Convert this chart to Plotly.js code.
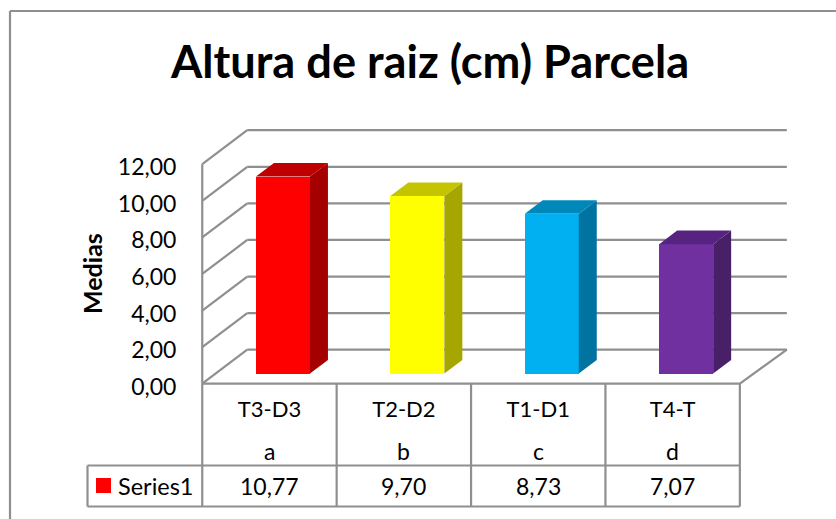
<!DOCTYPE html>
<html>
<head>
<meta charset="utf-8">
<script src="https://cdn.plot.ly/plotly-3.0.1.min.js"></script>
<style>html,body{margin:0;padding:0;background:#fff}#c{width:836px;height:519px}</style>
</head>
<body>
<div id="c"></div>
<script>
const categories = ['T3-D3', 'T2-D2', 'T1-D1', 'T4-T'];
const letters = ['a', 'b', 'c', 'd'];
const values = [10.77, 9.70, 8.73, 7.07];
const seriesName = 'Series1';
const tickValues = [0, 2, 4, 6, 8, 10, 12];
const frontColors = ['#ff0000', '#ffff00', '#00b0f0', '#7030a0'];
const sideColors = ['#a40000', '#a6a600', '#0073a0', '#482068'];
const topColors = ['#c00000', '#c4c400', '#0088bb', '#562480'];
const titleText = 'Altura de raiz (cm) Parcela';
const yTitle = 'Medias';

// Pixel geometry of the oblique projection
const FONT = 'Lato, Carlito, sans-serif';
const LINE = '#8f8f8f';
const PL = 200, PR = 790, PT = 127, PB = 386;      // plot area
const X0 = 202.25, Y0 = 383.7;                     // front-plane origin
const UX = 134.4, UY = 18.29;                      // px per category / per value unit
const DX = 45 / UX, DY = 34 / UY;                  // full depth vector in data units
const BACK_EXTRA = 2 / UX;                         // back wall is slightly wider
const BAR_W = 54 / UX, D_FRONT = 0.3, D_LEN = 0.4; // bar width, depth position and length
const n = categories.length;

const px = p => (p - PL) / (PR - PL);
const py = p => (PB - p) / (PB - PT);

// Bars
const barCenters = categories.map((_, i) => i + 0.5 + D_FRONT * DX);
const barBase = D_FRONT * DY;
const traces = [{
  type: 'bar', x: barCenters, y: values, base: barBase, width: BAR_W,
  marker: {color: frontColors, line: {width: 0}},
  showlegend: false, hoverinfo: 'skip'
}];
function poly(xs, ys, color) {
  traces.push({type: 'scatter', mode: 'lines', x: xs, y: ys, fill: 'toself',
    fillcolor: color, line: {width: 0, color: color}, showlegend: false, hoverinfo: 'skip'});
}
values.forEach((v, i) => {
  const l = barCenters[i] - BAR_W / 2, r = barCenters[i] + BAR_W / 2;
  const t = barBase + v, b = barBase;
  const ox = D_LEN * DX, oy = D_LEN * DY;
  poly([r, r, r + ox, r + ox, r], [b, t, t + oy, b + oy, b], sideColors[i]);
  poly([l, r, r + ox, l + ox, l], [t, t, t + oy, t + oy, t], topColors[i]);
});

// Walls and floor
const shapes = [];
const dataLine = (x0, y0, x1, y1) => shapes.push({type: 'line', layer: 'below', xref: 'x', yref: 'y',
  x0, y0, x1, y1, line: {color: LINE, width: 2.2}});
tickValues.forEach(v => {
  dataLine(DX, v + DY, n + DX + BACK_EXTRA, v + DY);
  dataLine(0, v, DX, v + DY);
});
dataLine(0, 0, 0, tickValues[tickValues.length - 1]);
dataLine(0, 0, n, 0);
dataLine(n, 0, n + DX + BACK_EXTRA, DY);

// Frame and data table
const pageLine = (x0, y0, x1, y1) => shapes.push({type: 'line', xref: 'paper', yref: 'paper',
  x0: px(x0), y0: py(y0), x1: px(x1), y1: py(y1), line: {color: LINE, width: 2.2}});
const ROW1 = 465.5, ROW2 = 506.5, LEG_L = 87.5;
pageLine(10, 11, 836, 11);
pageLine(10, 11, 10, 519);
const colX = i => X0 + i * UX;
for (let i = 0; i <= n; i++) pageLine(colX(i), Y0, colX(i), ROW2);
pageLine(LEG_L, ROW1, colX(n), ROW1);
pageLine(LEG_L, ROW2, colX(n), ROW2);
pageLine(LEG_L, ROW1, LEG_L, ROW2);
shapes.push({type: 'rect', xref: 'paper', yref: 'paper', x0: px(96), x1: px(111), y0: py(478), y1: py(493),
  fillcolor: frontColors[0], line: {width: 0}});

// Text
const annotations = [];
const note = (text, xref, x, y, extra) => annotations.push(Object.assign({
  text, xref, yref: 'paper', x, y, showarrow: false, xanchor: 'center', yanchor: 'middle',
  font: {family: FONT, size: 23, color: '#000'}
}, extra || {}));
categories.forEach((c, i) => {
  note(letters[i], 'x', i + 0.5, py(451));
  note(values[i].toFixed(2).replace('.', ','), 'x', i + 0.5, py(486));
});
note(seriesName, 'paper', px(156), py(486), {font: {family: FONT, size: 23.5, color: '#000'}});
note(yTitle, 'paper', px(92), py(274), {textangle: -90, font: {family: FONT, size: 25, color: '#000', weight: 700}});

const layout = {
  width: 836, height: 519,
  margin: {l: PL, r: 836 - PR, t: PT, b: 519 - PB, pad: 0},
  paper_bgcolor: '#fff', plot_bgcolor: '#fff',
  showlegend: false, bargap: 0,
  title: {text: titleText, x: 430 / 836, xanchor: 'center', y: 1 - 62 / 519, yanchor: 'middle',
    font: {family: FONT, size: 45.2, color: '#000', weight: 700}},
  xaxis: {
    type: 'linear', range: [(PL - X0) / UX, (PR - X0) / UX], showgrid: false, zeroline: false, showline: false,
    tickmode: 'array', tickvals: categories.map((_, i) => i + 0.5), ticktext: categories,
    ticks: 'outside', ticklen: 4, tickcolor: 'rgba(0,0,0,0)',
    tickfont: {family: FONT, size: 22, color: '#000'}
  },
  yaxis: {
    type: 'linear', range: [(Y0 - PB) / UY, (Y0 - PT) / UY], showgrid: false, zeroline: false, showline: false,
    tickmode: 'array', tickvals: tickValues, ticktext: tickValues.map(v => v.toFixed(2).replace('.', ',')),
    ticks: 'outside', ticklen: 18, tickcolor: 'rgba(0,0,0,0)', ticklabelshift: 3,
    tickfont: {family: FONT, size: 23, color: '#000'}
  },
  shapes, annotations
};
Plotly.newPlot('c', traces, layout, {displayModeBar: false, staticPlot: true});
</script>
</body>
</html>
